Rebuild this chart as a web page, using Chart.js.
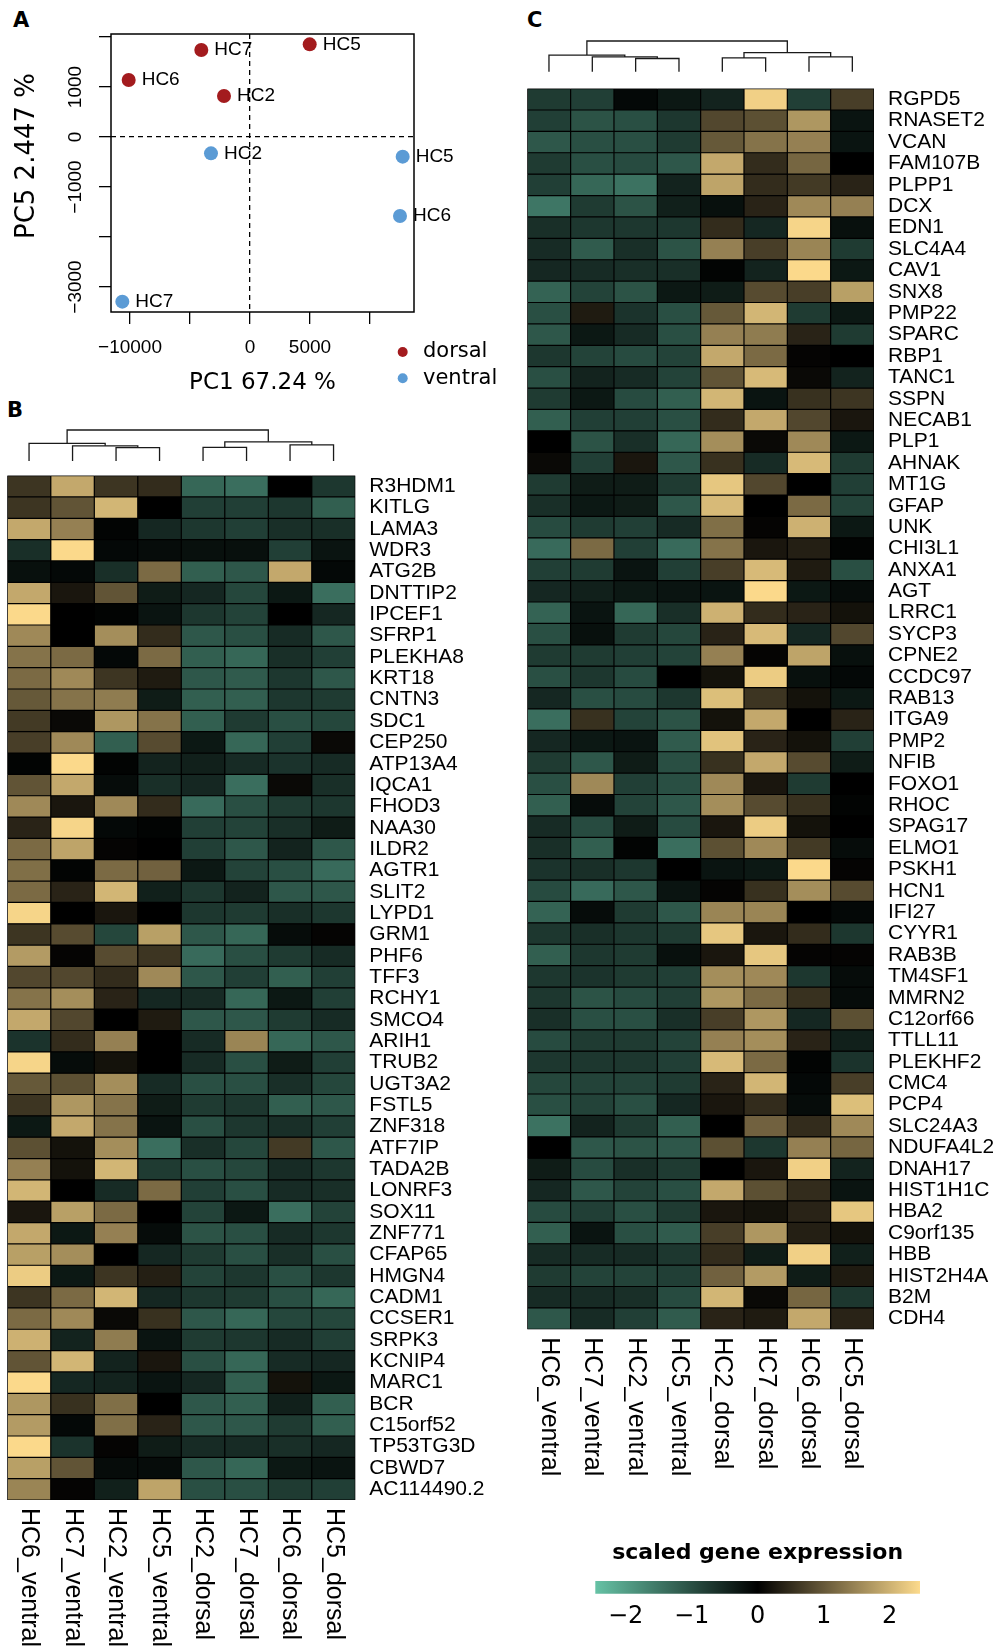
<!DOCTYPE html>
<html>
<head>
<meta charset="utf-8">
<script src="https://cdn.jsdelivr.net/npm/chart.js@4/dist/chart.umd.min.js"></script>
<style>
  body { margin: 0; background: #fff; width: 993px; height: 1647px; position: relative; overflow: hidden; }
  canvas { position: absolute; }
  .tag { position: absolute; font: bold 21px 'DejaVu Sans'; line-height: 1; color: #000; }
</style>
</head>
<body>
<div class="tag" style="left:13px;top:10px">A</div>
<div class="tag" style="left:7px;top:400px">B</div>
<div class="tag" style="left:527px;top:10px">C</div>

<canvas id="pca" width="500" height="400" style="left:0;top:0"></canvas>
<canvas id="dendB" width="490" height="36" style="left:0;top:426px"></canvas>
<canvas id="heatB" width="490" height="1190" style="left:0;top:457px"></canvas>
<canvas id="dendC" width="473" height="36" style="left:520px;top:37px"></canvas>
<canvas id="heatC" width="473" height="1577" style="left:520px;top:70px"></canvas>
<canvas id="key" width="400" height="117" style="left:558px;top:1530px"></canvas>

<script>
'use strict';

// Echantillons (ordre des colonnes des heatmaps)
const samples = ['HC6_ventral', 'HC7_ventral', 'HC2_ventral', 'HC5_ventral',
  'HC2_dorsal', 'HC7_dorsal', 'HC6_dorsal', 'HC5_dorsal'];

// PCA
const pcaNames = ['HC7', 'HC5', 'HC6', 'HC2'];
const dorsalPC1 = [-4058, 4975, -10110, -2167];
const dorsalPC5 = [1740, 1853, 1140, 820];
const ventralPC1 = [-10640, 12722, 12500, -3250];
const ventralPC5 = [-3293, -393, -1580, -327];
const pcaXTicks = [-10000, -5000, 0, 5000, 10000];
const pcaXLabels = [-10000, 0, 5000];
const pcaYTicks = [-3000, -2000, -1000, 0, 1000, 2000];
const pcaYLabels = [-3000, -1000, 0, 1000];

// Heatmap B
const genesB = ['R3HDM1', 'KITLG', 'LAMA3', 'WDR3', 'ATG2B', 'DNTTIP2', 'IPCEF1', 'SFRP1',
  'PLEKHA8', 'KRT18', 'CNTN3', 'SDC1', 'CEP250', 'ATP13A4', 'IQCA1', 'FHOD3', 'NAA30',
  'ILDR2', 'AGTR1', 'SLIT2', 'LYPD1', 'GRM1', 'PHF6', 'TFF3', 'RCHY1', 'SMCO4', 'ARIH1',
  'TRUB2', 'UGT3A2', 'FSTL5', 'ZNF318', 'ATF7IP', 'TADA2B', 'LONRF3', 'SOX11', 'ZNF771',
  'CFAP65', 'HMGN4', 'CADM1', 'CCSER1', 'SRPK3', 'KCNIP4', 'MARC1', 'BCR', 'C15orf52',
  'TP53TG3D', 'CBWD7', 'AC114490.2'];
const exprB = [
  [0.6, 1.9, 0.6, 0.5, -1.3, -1.4, 0, -0.7],
  [0.6, 0.95, 2.05, 0, -0.8, -0.8, -0.7, -1.2],
  [1.9, 1.45, -0.05, -0.5, -0.7, -0.8, -0.6, -0.6],
  [-0.6, 2.45, -0.1, -0.15, -0.2, -0.2, -0.8, -0.25],
  [-0.2, -0.1, -0.6, 1.2, -1.2, -1.1, 1.9, -0.1],
  [1.9, 0.25, 0.95, -0.35, -0.5, -0.9, -0.3, -1.4],
  [2.45, 0, -0.05, -0.25, -0.7, -0.85, 0, -0.5],
  [1.55, 0, 1.6, 0.5, -1.1, -1.0, -0.55, -1.1],
  [1.3, 1.2, -0.1, 1.2, -1.2, -1.3, -0.6, -0.8],
  [1.2, 1.55, 0.6, 0.3, -1.1, -1.15, -0.7, -1.1],
  [1.0, 1.3, 1.4, -0.35, -1.2, -1.2, -0.7, -0.75],
  [0.65, 0.1, 1.7, 1.3, -1.2, -0.75, -1.0, -0.9],
  [0.7, 1.55, -1.2, 0.85, -0.3, -1.3, -0.8, 0.1],
  [-0.05, 2.45, -0.05, -0.45, -0.4, -0.55, -0.65, -0.55],
  [0.95, 1.9, -0.15, -0.6, -0.5, -1.4, 0.1, -0.6],
  [1.55, 0.25, 1.55, 0.5, -1.35, -1.0, -0.75, -0.7],
  [0.4, 2.4, -0.1, -0.05, -0.8, -0.85, -0.6, -0.35],
  [1.2, 1.85, 0.05, 0, -0.8, -1.1, -0.45, -1.1],
  [1.25, -0.05, 1.2, 1.1, -0.3, -0.85, -1.0, -1.35],
  [1.2, 0.4, 2.05, -0.4, -0.7, -0.45, -1.1, -1.1],
  [2.4, 0, 0.25, 0, -0.7, -0.75, -0.6, -0.7],
  [0.6, 0.85, -0.9, 1.8, -1.1, -1.3, -0.15, 0.05],
  [1.75, 0.05, 0.85, 0.6, -1.35, -1.0, -0.75, -0.55],
  [0.8, 0.8, 0.5, 1.55, -1.1, -0.8, -1.2, -0.8],
  [1.3, 1.6, 0.4, -0.5, -0.55, -1.3, -0.3, -0.8],
  [1.9, 0.8, 0, 0.3, -1.1, -1.1, -0.75, -0.55],
  [-0.65, 0.5, 1.45, 0, -0.55, 1.5, -1.3, -1.1],
  [2.4, -0.15, 0.2, 0, -0.55, -1.0, -0.35, -0.8],
  [1.0, 0.9, 1.6, -0.55, -1.0, -1.0, -0.6, -0.9],
  [0.6, 1.7, 1.3, -0.35, -0.75, -0.7, -1.2, -1.1],
  [-0.3, 1.9, 1.3, -0.25, -1.0, -0.7, -0.6, -0.8],
  [0.9, 0.2, 1.6, -1.4, -0.6, -0.9, 0.65, -1.1],
  [1.45, 0.2, 2.05, -0.75, -1.0, -0.9, -0.55, -0.7],
  [2.05, 0, -0.55, 1.2, -0.8, -1.0, -0.55, -0.6],
  [0.25, 1.8, 1.2, 0, -0.85, -0.3, -1.4, -0.85],
  [1.9, -0.3, 1.45, -0.15, -1.05, -1.0, -0.55, -0.7],
  [1.8, 1.6, 0, -0.5, -0.75, -1.0, -0.6, -1.0],
  [2.3, -0.3, 0.6, 0.35, -0.85, -0.7, -1.0, -0.7],
  [0.6, 1.2, 2.05, -0.5, -0.7, -0.75, -1.0, -1.3],
  [1.2, 1.55, 0.1, 0.55, -1.1, -1.3, -0.9, -0.9],
  [2.0, -0.45, 1.4, -0.25, -0.75, -0.7, -0.55, -0.8],
  [0.95, 2.05, -0.45, 0.25, -1.0, -1.3, -0.55, -0.5],
  [2.45, -0.5, -0.45, -0.25, -0.5, -1.2, 0.2, -0.3],
  [1.7, 0.55, 1.25, 0, -1.1, -1.2, -0.4, -1.2],
  [1.75, -0.1, 1.25, 0.4, -1.1, -1.1, -0.75, -1.2],
  [2.45, -0.65, 0.05, -0.35, -0.55, -0.55, -0.6, -0.5],
  [1.8, 0.95, -0.15, -0.15, -1.1, -1.3, -0.3, -0.25],
  [1.5, 0.05, -0.4, 1.85, -1.0, -1.0, -0.75, -0.8]
];
// Dendrogramme B (matrice merge style R : negatif = feuille, positif = fusion)
const dendB_a = [-3, -5, -7, -2, -1, 2, 5];
const dendB_b = [-4, -6, -8, 1, 4, 3, 6];
const dendB_h = [0.43, 0.44, 0.52, 0.49, 0.57, 0.62, 1.0];

// Heatmap C
const genesC = ['RGPD5', 'RNASET2', 'VCAN', 'FAM107B', 'PLPP1', 'DCX', 'EDN1', 'SLC4A4',
  'CAV1', 'SNX8', 'PMP22', 'SPARC', 'RBP1', 'TANC1', 'SSPN', 'NECAB1', 'PLP1', 'AHNAK',
  'MT1G', 'GFAP', 'UNK', 'CHI3L1', 'ANXA1', 'AGT', 'LRRC1', 'SYCP3', 'CPNE2', 'CCDC97',
  'RAB13', 'ITGA9', 'PMP2', 'NFIB', 'FOXO1', 'RHOC', 'SPAG17', 'ELMO1', 'PSKH1', 'HCN1',
  'IFI27', 'CYYR1', 'RAB3B', 'TM4SF1', 'MMRN2', 'C12orf66', 'TTLL11', 'PLEKHF2', 'CMC4',
  'PCP4', 'SLC24A3', 'NDUFA4L2', 'DNAH17', 'HIST1H1C', 'HBA2', 'C9orf135', 'HBB',
  'HIST2H4A', 'B2M', 'CDH4'];
const exprC = [
  [-0.75, -0.8, -0.1, -0.3, -0.45, 2.35, -0.8, 0.7],
  [-0.8, -1.05, -1.0, -0.7, 0.8, 0.9, 1.7, -0.25],
  [-1.1, -1.0, -1.0, -0.75, 1.0, 1.3, 1.45, -0.25],
  [-0.75, -1.0, -0.95, -1.1, 1.9, 0.5, 1.15, 0],
  [-0.8, -1.3, -1.45, -0.45, 1.85, 0.5, 0.65, 0.4],
  [-1.5, -0.75, -1.05, -0.4, -0.2, 0.4, 1.55, 1.45],
  [-0.6, -0.7, -0.7, -0.7, 0.5, -0.5, 2.4, -0.2],
  [-0.55, -1.15, -0.6, -1.05, 1.45, 0.7, 1.5, -0.75],
  [-0.5, -0.55, -0.6, -0.6, -0.05, -0.45, 2.45, -0.3],
  [-1.25, -0.85, -1.05, -0.3, -0.35, 0.85, 0.7, 1.8],
  [-1.0, 0.3, -0.65, -1.0, 1.0, 2.05, -0.75, -0.3],
  [-1.1, -0.3, -0.55, -1.0, 1.45, 1.4, 0.4, -0.75],
  [-0.7, -0.85, -0.95, -0.85, 1.9, 1.2, 0.05, 0],
  [-1.0, -0.45, -0.55, -0.85, 0.95, 2.1, 0.1, -0.45],
  [-0.75, -0.3, -0.95, -1.2, 2.05, -0.25, 0.55, 0.6],
  [-1.2, -0.8, -0.8, -1.0, 0.5, 1.9, 0.8, 0.25],
  [0, -1.05, -0.6, -1.3, 1.6, 0.1, 1.55, -0.3],
  [0.1, -0.8, 0.25, -1.1, 0.55, -0.55, 2.1, -0.75],
  [-0.75, -0.35, -0.35, -0.75, 2.25, 0.8, 0, -0.8],
  [-0.6, -0.3, -0.35, -1.1, 2.1, 0, 1.2, -0.85],
  [-0.95, -0.75, -0.8, -0.55, 1.25, 0.05, 2.0, -0.3],
  [-1.35, 1.2, -0.8, -1.35, 1.3, 0.25, 0.35, -0.05],
  [-0.8, -0.75, -0.25, -0.8, 0.7, 2.1, 0.3, -1.0],
  [-0.5, -0.4, -0.3, -0.25, -0.25, 2.45, -0.3, -0.15],
  [-1.25, -0.25, -1.3, -0.6, 2.0, 0.5, 0.4, 0.2],
  [-1.0, -0.2, -0.75, -0.9, 0.4, 2.1, -0.5, 0.8],
  [-0.75, -0.75, -0.8, -0.85, 1.45, 0.05, 1.85, -0.2],
  [-1.0, -0.7, -0.95, 0, 0.2, 2.3, -0.2, -0.1],
  [-0.5, -1.0, -0.95, -0.7, 2.15, 0.6, 0.2, -0.3],
  [-1.4, 0.55, -0.85, -1.05, 0.2, 1.9, 0, 0.4],
  [-0.5, -0.3, -0.25, -1.15, 2.2, 0.4, 0.2, -0.8],
  [-0.75, -1.1, -0.35, -1.0, 0.55, 1.9, 0.85, -0.35],
  [-1.0, 1.55, -0.8, -1.0, 1.55, 0.25, -0.75, 0],
  [-1.2, -0.15, -0.85, -1.1, 1.6, 0.85, 0.55, -0.05],
  [-0.55, -0.95, -0.35, -0.95, 0.25, 2.3, 0.2, 0],
  [-0.6, -1.2, -0.05, -1.4, 0.9, 1.55, 0.65, -0.15],
  [-0.65, -0.6, -0.7, 0, -0.25, -0.3, 2.45, 0.05],
  [-0.95, -1.35, -1.1, -0.25, 0.05, 0.55, 1.6, 0.85],
  [-1.25, -0.15, -0.75, -1.1, 1.5, 1.5, 0, -0.1],
  [-0.7, -0.6, -0.7, -0.75, 2.25, 0.25, 0.5, -0.7],
  [-1.2, -0.7, -0.75, -0.2, 0.25, 2.25, 0.05, 0.05],
  [-0.7, -0.65, -0.75, -0.8, 1.6, 1.55, -0.7, -0.15],
  [-0.7, -1.05, -0.95, -0.8, 1.7, 1.2, 0.55, -0.15],
  [-0.6, -1.0, -1.0, -0.6, 0.7, 1.7, -0.5, 0.9],
  [-0.95, -0.75, -0.75, -0.85, 1.45, 1.6, 0.4, -0.4],
  [-0.7, -0.7, -0.7, -0.8, 2.1, 1.2, -0.05, -0.65],
  [-0.9, -0.85, -0.85, -0.75, 0.4, 2.05, -0.1, 0.7],
  [-1.0, -0.85, -1.0, -0.5, 0.25, 0.5, -0.15, 2.15],
  [-1.45, -0.45, -0.75, -1.2, 0, 1.1, 0.5, 1.55],
  [0, -1.1, -1.05, -1.1, 0.9, -0.7, 1.45, 1.15],
  [-0.35, -0.95, -0.6, -0.75, 0, 0.25, 2.35, -0.45],
  [-0.5, -1.1, -0.85, -1.0, 1.9, 0.9, 0.5, -0.25],
  [-0.95, -0.8, -1.0, -0.75, 0.25, 0.2, 0.4, 2.25],
  [-1.2, -0.25, -1.0, -1.15, 0.7, 1.7, 0.35, 0.2],
  [-0.55, -0.55, -0.55, -0.7, 0.5, -0.35, 2.35, -0.4],
  [-0.75, -0.85, -0.85, -0.8, 1.1, 1.75, -0.35, 0.3],
  [-0.55, -0.55, -0.6, -0.95, 2.05, 0.1, 1.15, -0.7],
  [-1.1, -0.55, -0.8, -1.15, 0.4, 0.3, 1.9, 0.4]
];
const dendC_a = [-3, -5, -7, -2, -1, 2, 5];
const dendC_b = [-4, -6, -8, 1, 4, 3, 6];
const dendC_h = [0.43, 0.45, 0.48, 0.48, 0.54, 0.62, 1.0];

// Echelle de couleurs
const keyRange = [-2.46, 2.46];
const keyTicks = [-2, -1, 0, 1, 2];
const rampRGB = [[102, 194, 165], [0, 0, 0], [252, 218, 140]];

const RED = '#A31B1E';
const BLUE = '#5B9BD5';

const minus = (v) => String(v).replace('-', '\u2212');

function ramp(v) {
  const lo = keyRange[0], hi = keyRange[1];
  v = Math.max(lo, Math.min(hi, v));
  const k = v < 0 ? 0 : 1;
  const t = k === 0 ? (v - lo) / -lo : v / hi;
  const c = rampRGB[k].map((a, i) => Math.round(a + (rampRGB[k + 1][i] - a) * t));
  return 'rgb(' + c.join(',') + ')';
}

// ---------- A : PCA ----------
const pcaDecor = {
  id: 'pcaDecor',
  afterDatasetsDraw(chart) {
    const { ctx } = chart;
    ctx.save();
    ctx.font = '19px "Liberation Sans"';
    ctx.fillStyle = '#000';
    ctx.textAlign = 'left';
    ctx.textBaseline = 'middle';
    chart.data.datasets.forEach((d, di) => {
      chart.getDatasetMeta(di).data.forEach((pt, i) => {
        ctx.fillText(pcaNames[i], pt.x + 13, pt.y);
      });
    });
    ctx.restore();
  },
  afterDraw(chart) {
    const { ctx, chartArea: a } = chart;
    ctx.save();
    ctx.strokeStyle = '#000';
    ctx.lineWidth = 1.5;
    ctx.strokeRect(a.left, a.top, a.right - a.left, a.bottom - a.top);
    // legende
    ctx.font = '21px "DejaVu Sans"';
    ctx.textBaseline = 'middle';
    chart.data.datasets.forEach((d, i) => {
      const y = a.bottom + 40 + i * 26.3;
      ctx.fillStyle = d.backgroundColor;
      ctx.beginPath();
      ctx.arc(a.right - 11.3, y, 5, 0, Math.PI * 2);
      ctx.fill();
      ctx.fillStyle = '#000';
      ctx.fillText(d.label, a.right + 9, y);
    });
    // titre axe y
    ctx.translate(27, 156);
    ctx.rotate(-Math.PI / 2);
    ctx.textAlign = 'center';
    ctx.font = '26px "DejaVu Sans"';
    ctx.fillText('PC5 2.447 %', 0, 0);
    ctx.restore();
  }
};

const zeroGrid = (c) => (c.tick && c.tick.value === 0 ? '#000' : 'rgba(0,0,0,0)');

new Chart(document.getElementById('pca'), {
  type: 'scatter',
  data: {
    datasets: [
      { label: 'dorsal', data: dorsalPC1.map((x, i) => ({ x, y: dorsalPC5[i] })),
        backgroundColor: RED, borderWidth: 0, pointRadius: 7 },
      { label: 'ventral', data: ventralPC1.map((x, i) => ({ x, y: ventralPC5[i] })),
        backgroundColor: BLUE, borderWidth: 0, pointRadius: 7 },
    ],
  },
  options: {
    responsive: false,
    animation: false,
    events: [],
    layout: { padding: { left: 0, top: 34, right: 86, bottom: 0 } },
    plugins: { legend: { display: false }, tooltip: { enabled: false } },
    scales: {
      x: {
        type: 'linear', min: -11583, max: 13667,
        afterBuildTicks: (s) => { s.ticks = pcaXTicks.map((v) => ({ value: v })); },
        afterFit: (s) => { s.height = 88; },
        ticks: {
          autoSkip: false, maxRotation: 0, padding: 12, color: '#000',
          font: { family: 'Liberation Sans', size: 19 },
          callback: (v) => (pcaXLabels.includes(v) ? minus(v) : ''),
        },
        grid: { color: zeroGrid, lineWidth: 1.3, tickColor: '#000', tickWidth: 1.3, tickLength: 12, tickBorderDash: [] },
        border: { display: false, dash: [5, 4] },
        title: {
          display: true, text: 'PC1 67.24 %', color: '#000',
          font: { family: 'DejaVu Sans', size: 23 }, padding: { top: 0, bottom: 3 },
        },
      },
      y: {
        type: 'linear', min: -3500, max: 2060,
        afterBuildTicks: (s) => { s.ticks = pcaYTicks.map((v) => ({ value: v })); },
        afterFit: (s) => { s.width = 111; },
        ticks: {
          autoSkip: false, minRotation: 90, maxRotation: 90, crossAlign: 'center', padding: -3,
          color: '#000', font: { family: 'Liberation Sans', size: 19 },
          callback: (v) => (pcaYLabels.includes(v) ? minus(v) : ''),
        },
        grid: { color: zeroGrid, lineWidth: 1.3, tickColor: '#000', tickWidth: 1.3, tickLength: 12, tickBorderDash: [] },
        border: { display: false, dash: [5, 4] },
      },
    },
  },
  plugins: [pcaDecor],
});

// ---------- B et C : heatmaps ----------
// fond noir sous les cellules : les joints entre cellules restent noirs
const cellBackdrop = {
  id: 'cellBackdrop',
  beforeDatasetsDraw(chart) {
    const { ctx, chartArea: a } = chart;
    ctx.save();
    ctx.fillStyle = '#000';
    ctx.fillRect(a.left, a.top, a.right - a.left, a.bottom - a.top);
    ctx.restore();
  },
};

const sampleLabels = {
  id: 'sampleLabels',
  afterDraw(chart) {
    const { ctx, chartArea } = chart;
    const x = chart.scales.x;
    ctx.save();
    ctx.font = '25px "Liberation Sans"';
    ctx.fillStyle = '#000';
    ctx.textAlign = 'left';
    ctx.textBaseline = 'middle';
    samples.forEach((s, i) => {
      ctx.save();
      ctx.translate(x.getPixelForValue(i), chartArea.bottom + 8);
      ctx.rotate(Math.PI / 2);
      ctx.fillText(s, 0, 0);
      ctx.restore();
    });
    ctx.restore();
  },
};

function heatmap(id, genes, expr, labelWidth, padBottom) {
  const n = genes.length;
  new Chart(document.getElementById(id), {
    type: 'bar',
    data: {
      labels: samples,
      datasets: expr.map((row, r) => ({
        data: row.map(() => [r, r + 1]),
        backgroundColor: row.map((v) => ramp(v)),
        borderColor: '#000',
        borderWidth: 0.6,
        borderSkipped: false,
        inflateAmount: 0,
        grouped: false,
        barPercentage: 1,
        categoryPercentage: 1,
      })),
    },
    options: {
      responsive: false,
      animation: false,
      events: [],
      layout: { padding: { left: 7.3, top: 4, right: 0, bottom: padBottom } },
      plugins: { legend: { display: false }, tooltip: { enabled: false } },
      scales: {
        x: { type: 'category', display: false },
        y: { type: 'linear', min: 0, max: n, reverse: true, display: false },
        genes: {
          type: 'category', axis: 'y', position: 'right', labels: genes, offset: true,
          afterFit: (s) => { s.width = labelWidth; },
          grid: { display: false }, border: { display: false },
          ticks: { autoSkip: false, padding: 6, color: '#000', font: { family: 'Liberation Sans', size: 21 } },
        },
      },
    },
    plugins: [cellBackdrop, sampleLabels],
  });
}

function dendrogram(id, mA, mB, mH, padRight, padBottom) {
  const pos = [];
  const sets = mA.map((a, k) => {
    const b = mB[k];
    const xa = a < 0 ? -a - 1 : pos[a - 1];
    const ya = a < 0 ? 0 : mH[a - 1];
    const xb = b < 0 ? -b - 1 : pos[b - 1];
    const yb = b < 0 ? 0 : mH[b - 1];
    pos.push((xa + xb) / 2);
    return {
      data: [{ x: xa, y: ya }, { x: xa, y: mH[k] }, { x: xb, y: mH[k] }, { x: xb, y: yb }],
      showLine: true, pointRadius: 0, borderColor: '#1a1a1a', borderWidth: 1.3, clip: false,
    };
  });
  new Chart(document.getElementById(id), {
    type: 'scatter',
    data: { datasets: sets },
    options: {
      responsive: false,
      animation: false,
      events: [],
      layout: { padding: { left: 7.3, top: 4, right: padRight, bottom: padBottom } },
      plugins: { legend: { display: false }, tooltip: { enabled: false } },
      scales: {
        x: { type: 'linear', min: -0.5, max: samples.length - 0.5, display: false },
        y: { type: 'linear', min: 0, max: 1, display: false },
      },
    },
  });
}

dendrogram('dendB', dendB_a, dendB_b, dendB_h, 134.7, 1);
heatmap('heatB', genesB, exprB, 134.7, 147);
dendrogram('dendC', dendC_a, dendC_b, dendC_h, 119, 1.3);
heatmap('heatC', genesC, exprC, 119, 317.7);

// ---------- Legende couleur ----------
new Chart(document.getElementById('key'), {
  type: 'bar',
  data: {
    labels: [''],
    datasets: [{
      data: [keyRange],
      borderWidth: 0,
      barPercentage: 1,
      categoryPercentage: 1,
      backgroundColor: (c) => {
        const a = c.chart.chartArea;
        if (!a) return '#000';
        const g = c.chart.ctx.createLinearGradient(a.left, 0, a.right, 0);
        g.addColorStop(0, ramp(keyRange[0]));
        g.addColorStop(0.5, ramp(0));
        g.addColorStop(1, ramp(keyRange[1]));
        return g;
      },
    }],
  },
  options: {
    indexAxis: 'y',
    responsive: false,
    animation: false,
    events: [],
    layout: { padding: { left: 37.3, right: 38, top: 0, bottom: 14.5 } },
    plugins: {
      legend: { display: false },
      tooltip: { enabled: false },
      title: {
        display: true, text: 'scaled gene expression', color: '#000',
        font: { family: 'DejaVu Sans', size: 22, weight: 'bold' },
        padding: { top: 9.8, bottom: 14.8 },
      },
    },
    scales: {
      x: {
        type: 'linear', min: keyRange[0], max: keyRange[1],
        afterBuildTicks: (s) => { s.ticks = keyTicks.map((v) => ({ value: v })); },
        grid: { display: false }, border: { display: false },
        ticks: { padding: 1, color: '#000', font: { family: 'DejaVu Sans', size: 24 }, callback: (v) => minus(v) },
      },
      y: { display: false },
    },
  },
});
</script>
</body>
</html>
